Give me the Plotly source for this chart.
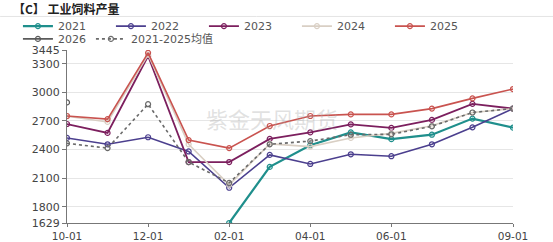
import plotly.graph_objects as go

months = ["10-01","11-01","12-01","01-01","02-01","03-01","04-01","05-01","06-01","07-01","08-01","09-01"]
tick_months = ["10-01","12-01","02-01","04-01","06-01","09-01"]
y_ticks = [1629, 1800, 2100, 2400, 2700, 3000, 3300, 3445]

s2021 = [None, None, None, None, 1629, 2218, 2445, 2580, 2509, 2556, 2725, 2630]
s2022 = [2522, 2455, 2529, 2380, 1999, 2344, 2249, 2350, 2330, 2455, 2633, 2830]
s2023 = [2668, 2575, 3382, 2269, 2269, 2512, 2580, 2664, 2627, 2711, 2880, 2830]
s2024 = [2750, 2690, 3395, 2455, 2030, 2460, 2431, 2522, 2570, 2650, 2789, 2830]
s2025 = [2752, 2720, 3415, 2499, 2415, 2647, 2752, 2769, 2769, 2830, 2937, 3035]
s2026 = [2895, None, None, None, None, None, None, None, None, None, None, None]
savg = [2465, 2415, 2876, 2269, 2050, 2455, 2489, 2556, 2560, 2644, 2789, 2830]

series = [
    ("2021", s2021, "#1f8f8c", 2.2, "solid", "legend"),
    ("2022", s2022, "#4b3f8e", 1.6, "solid", "legend"),
    ("2023", s2023, "#7c1f5e", 1.8, "solid", "legend"),
    ("2024", s2024, "#d9cfc4", 1.6, "solid", "legend"),
    ("2025", s2025, "#c9534f", 1.6, "solid", "legend"),
    ("2026", s2026, "#5a5a5a", 1.6, "solid", "legend2"),
    ("2021-2025均值", savg, "#6a6a6a", 1.6, "dot", "legend2"),
]

fig = go.Figure()
for name, vals, color, w, dash, lg in series:
    fig.add_trace(go.Scatter(
        x=months, y=vals, name=name, mode="lines+markers",
        line=dict(color=color, width=w, dash=dash),
        marker=dict(symbol="circle-open", size=5, color=color, line=dict(width=1.2)),
        connectgaps=False, legend=lg,
    ))

fig.update_layout(
    width=553, height=242,
    margin=dict(l=67, r=40, t=50, b=19, autoexpand=False),
    paper_bgcolor="white", plot_bgcolor="white",
    font=dict(family="DejaVu Sans, Noto Sans CJK SC", size=11, color="#444"),
    showlegend=True,
    legend=dict(orientation="h", xanchor="left", yanchor="top", x=-0.11, y=1.222,
                entrywidthmode="pixels", entrywidth=48,
                font=dict(size=11, color="#555"), tracegroupgap=0,
                bgcolor="rgba(0,0,0,0)"),
    legend2=dict(orientation="h", xanchor="left", yanchor="top", x=-0.11, y=1.148,
                 font=dict(size=11, color="#555"), tracegroupgap=0,
                 bgcolor="rgba(0,0,0,0)"),
)

fig.add_annotation(text="<b>【C】 工业饲料产量</b>", xref="paper", yref="paper",
                   x=-0.125, y=1.237, xanchor="left", yanchor="middle", showarrow=False,
                   font=dict(family="Noto Sans CJK SC", size=12, color="#222"))
fig.add_shape(type="line", xref="paper", yref="paper", x0=-0.15, x1=1.09,
              y0=1.194, y1=1.194, line=dict(color="#e4e4e4", width=1))
fig.add_annotation(text="紫金天风期货", xref="paper", yref="paper", x=0.46, y=0.711,
                   showarrow=False, font=dict(family="Noto Sans CJK SC", size=22,
                                              color="rgba(170,170,170,0.35)"))

fig.update_xaxes(type="category", range=[0, 11], tickmode="array", tickvals=tick_months,
                 ticktext=tick_months, showgrid=False, showline=True, linecolor="#777",
                 linewidth=1, ticks="outside", ticklen=3, tickcolor="#777",
                 tickfont=dict(size=10.5, color="#444"))
fig.update_yaxes(range=[1629, 3445], tickmode="array", tickvals=y_ticks,
                 showgrid=True, gridcolor="#e6e6e6", gridwidth=1, showline=True,
                 linecolor="#777", linewidth=1, ticks="outside", ticklen=4,
                 tickcolor="#777", zeroline=False, tickfont=dict(size=11, color="#444"))

fig.write_html("out.html")
